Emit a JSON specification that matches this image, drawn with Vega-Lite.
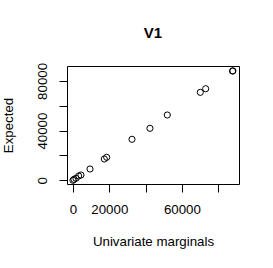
{
  "$schema": "https://vega.github.io/schema/vega-lite/v6.json",
  "autosize": "none",
  "width": 172,
  "height": 118,
  "padding": {"left": 67, "top": 66, "right": 34, "bottom": 84},
  "background": "white",
  "config": {
    "font": "Liberation Sans",
    "view": {"stroke": "black", "strokeWidth": 1}
  },
  "title": {"text": "V1", "fontSize": 15, "fontWeight": "bold", "font": "Liberation Sans", "color": "black", "offset": 21, "anchor": "middle"},
  "data": {"values": [
    {"u": 0, "e": 0},
    {"u": 550, "e": 800},
    {"u": 1650, "e": 1610},
    {"u": 3140, "e": 3460},
    {"u": 4400, "e": 4260},
    {"u": 9370, "e": 9090},
    {"u": 17250, "e": 17140},
    {"u": 18560, "e": 18500},
    {"u": 32500, "e": 33000},
    {"u": 42400, "e": 41840},
    {"u": 51960, "e": 52550},
    {"u": 70150, "e": 70800},
    {"u": 73100, "e": 73700},
    {"u": 87900, "e": 87900},
    {"u": 88100, "e": 88100}
  ]},
  "mark": {"type": "point", "shape": "circle", "filled": false, "stroke": "black", "strokeWidth": 1, "size": 38, "opacity": 1},
  "encoding": {
    "x": {
      "field": "u", "type": "quantitative",
      "scale": {"domain": [-3300, 91460], "nice": false, "zero": false},
      "axis": {
        "values": [0, 20000, 40000, 60000, 80000],
        "format": "d",
        "labelExpr": "datum.value == 40000 || datum.value == 80000 ? '' : datum.label",
        "grid": false, "domain": false,
        "tickColor": "black", "tickSize": 8, "tickWidth": 1,
        "labelFontSize": 13.3, "labelColor": "black", "labelPadding": 10,
        "title": "Univariate marginals", "titleFontSize": 13.3, "titleFontWeight": "normal", "titleColor": "black", "titlePadding": 19
      }
    },
    "y": {
      "field": "e", "type": "quantitative",
      "scale": {"domain": [-2980, 92000], "nice": false, "zero": false},
      "axis": {
        "values": [0, 20000, 40000, 60000, 80000],
        "format": "d",
        "labelExpr": "datum.value == 20000 || datum.value == 60000 ? '' : datum.label",
        "grid": false, "domain": false,
        "tickColor": "black", "tickSize": 8, "tickWidth": 1,
        "labelAngle": -90, "labelAlign": "center", "labelBaseline": "bottom",
        "labelFontSize": 13.3, "labelColor": "black", "labelPadding": 10,
        "title": "Expected", "titleFontSize": 13.3, "titleFontWeight": "normal", "titleColor": "black", "titlePadding": 20
      }
    }
  }
}
